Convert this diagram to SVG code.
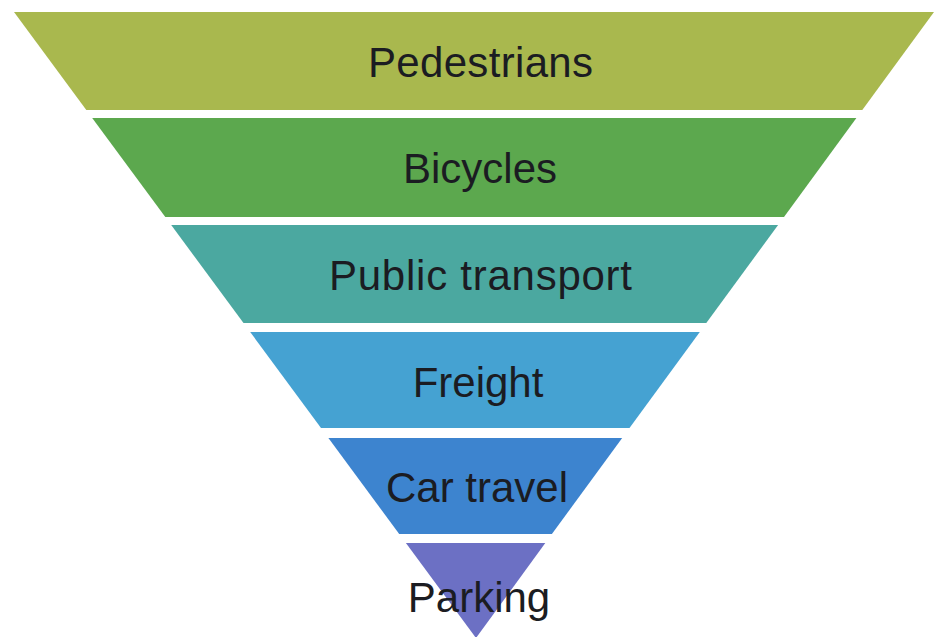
<svg xmlns="http://www.w3.org/2000/svg" width="936" height="637" viewBox="0 0 936 637">
  <style>
    .lbl { font-family: "Liberation Sans", Arial, Helvetica, sans-serif; font-size: 42px; fill: #1b1c22; text-anchor: middle; }
  </style>
  <rect x="0" y="0" width="936" height="637" fill="#ffffff"/>
  <g id="pedestrians">
    <polygon points="14,12 934,12 862.3,110 86.3,110" fill="#a9b84e"/>
    <text class="lbl" x="480.5" y="77" textLength="225">Pedestrians</text>
  </g>
  <g id="bicycles">
    <polygon points="92.2,118 856.4,118 784,217 165.3,217" fill="#5ca84e"/>
    <text class="lbl" x="480" y="183">Bicycles</text>
  </g>
  <g id="public-transport">
    <polygon points="171.2,225 778.1,225 706.3,323 243.5,323" fill="#4ba8a0"/>
    <text class="lbl" x="480.5" y="290" textLength="303">Public transport</text>
  </g>
  <g id="freight">
    <polygon points="250.2,332 699.8,332 629.5,428 321,428" fill="#45a2d2"/>
    <text class="lbl" x="478" y="397">Freight</text>
  </g>
  <g id="car-travel">
    <polygon points="328.4,438 622.2,438 551.9,534 399.2,534" fill="#3d84cf"/>
    <text class="lbl" x="477" y="502">Car travel</text>
  </g>
  <g id="parking">
    <polygon points="405.9,543 545.3,543 476,638" fill="#6c70c4"/>
    <text class="lbl" x="479" y="612">Parking</text>
  </g>
  <g id="connectors"/>
</svg>
